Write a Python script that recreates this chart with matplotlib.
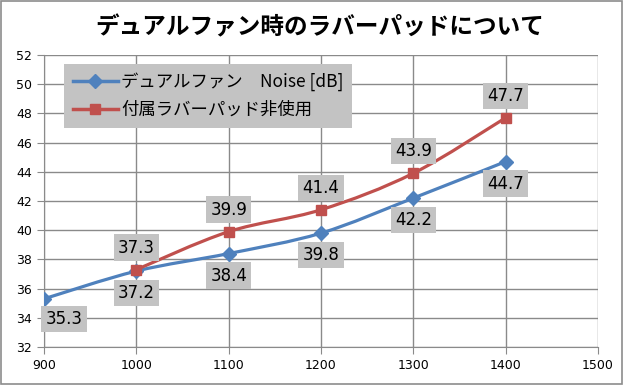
import matplotlib
matplotlib.use("Agg")
import matplotlib.pyplot as plt
from matplotlib.path import Path
from matplotlib.patches import PathPatch, Rectangle
import numpy as np

plt.rcParams['font.family'] = ['Noto Sans CJK JP', 'DejaVu Sans']

title = "デュアルファン時のラバーパッドについて"
rpm_blue = [900, 1000, 1100, 1200, 1300, 1400]
noise_blue = [35.3, 37.2, 38.4, 39.8, 42.2, 44.7]
rpm_red = [1000, 1100, 1200, 1300, 1400]
noise_red = [37.3, 39.9, 41.4, 43.9, 47.7]
name_blue = "デュアルファン　Noise [dB]"
name_red = "付属ラバーパッド非使用"
xticks = [900, 1000, 1100, 1200, 1300, 1400, 1500]
yticks = [32, 34, 36, 38, 40, 42, 44, 46, 48, 50, 52]

BLUE = "#4F81BD"
RED = "#C0504D"
LBLBG = "#C3C3C3"

fig = plt.figure(figsize=(6.23, 3.85), dpi=100)
ax = fig.add_axes([44/623, 38/385, (598-44)/623, (347-55)/385])
fig.patches.append(Rectangle((0.0015, 0.002), 0.997, 0.995, transform=fig.transFigure,
                             fill=False, edgecolor="#8C8C8C", linewidth=1.2))

ax.set_xlim(900, 1500)
ax.set_ylim(32, 52)
ax.set_xticks(xticks)
ax.set_yticks(yticks)
ax.grid(True, color="#8A8A8A", linewidth=1)
ax.set_axisbelow(True)
for s in ["top", "right"]:
    ax.spines[s].set_visible(False)
for s in ["left", "bottom"]:
    ax.spines[s].set_color("#8A8A8A")
ax.tick_params(axis="both", colors="#8A8A8A", labelcolor="black", labelsize=9, length=5)
for lab in ax.get_xticklabels() + ax.get_yticklabels():
    lab.set_fontfamily(['DejaVu Sans'])


def smooth_path(xs, ys):
    pts = np.column_stack([xs, ys]).astype(float)
    n = len(pts)
    verts = [pts[0]]
    codes = [Path.MOVETO]
    for i in range(n - 1):
        p0 = pts[i - 1] if i > 0 else pts[i]
        p1 = pts[i]
        p2 = pts[i + 1]
        p3 = pts[i + 2] if i + 2 < n else pts[i + 1]
        c1 = p1 + (p2 - p0) / 6.0
        c2 = p2 - (p3 - p1) / 6.0
        verts += [c1, c2, p2]
        codes += [Path.CURVE4] * 3
    return Path(verts, codes)


for xs, ys, col, mk, ms, name in [(rpm_blue, noise_blue, BLUE, "D", 7, name_blue),
                                   (rpm_red, noise_red, RED, "s", 7, name_red)]:
    ax.add_patch(PathPatch(smooth_path(xs, ys), fill=False, edgecolor=col,
                           linewidth=2.3, transform=ax.transData, zorder=3))
    ax.plot(xs, ys, linestyle="none", marker=mk, markersize=ms, color=col, zorder=4)
    ax.plot([], [], color=col, linewidth=2.5, marker=mk, markersize=ms, label=name)

bbox = dict(boxstyle="square,pad=0.25", facecolor=LBLBG, edgecolor="none")
for i, (x, y) in enumerate(zip(rpm_blue, noise_blue)):
    off = (20, -20) if i == 0 else (0, -22)
    ax.annotate(f"{y:.1f}", (x, y), xytext=off, textcoords="offset pixels",
                ha="center", va="center", fontsize=12, bbox=bbox, zorder=5,
                annotation_clip=False, family=['DejaVu Sans'])
for x, y in zip(rpm_red, noise_red):
    ax.annotate(f"{y:.1f}", (x, y), xytext=(0, 22), textcoords="offset pixels",
                ha="center", va="center", fontsize=12, bbox=bbox, zorder=5,
                annotation_clip=False, family=['DejaVu Sans'])

leg = ax.legend(loc="upper left", bbox_to_anchor=(20/554, 1 - 9/292), fontsize=12.5,
                frameon=True, fancybox=False, handlelength=2.6, handletextpad=0.2,
                borderpad=0.5, labelspacing=0.55, borderaxespad=0)
leg.get_frame().set_facecolor(LBLBG)
leg.get_frame().set_edgecolor("none")
leg.get_frame().set_alpha(1)

fig.text(320/623, 1 - 27/385, title, ha="center", va="center", fontsize=17,
         fontweight="bold")

fig.savefig("out.png", dpi=100)
